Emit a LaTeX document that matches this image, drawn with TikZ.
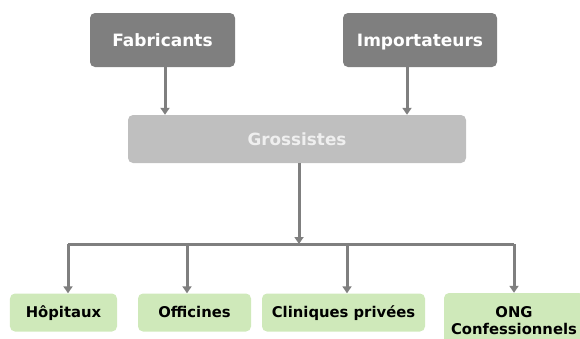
\documentclass[tikz,border=0pt]{standalone}
\usepackage{fontspec}
\setmainfont{DejaVu Sans}
\usetikzlibrary{arrows.meta,calc}
\definecolor{darkbox}{HTML}{7F7F7F}
\definecolor{lightbox}{HTML}{BFBFBF}
\definecolor{greenbox}{HTML}{CFE9BA}
\definecolor{linec}{HTML}{7F7F7F}
\definecolor{grostext}{HTML}{EFEFEF}
\begin{document}
\begin{tikzpicture}[x=1bp,y=-1bp,
  topbox/.style={fill=darkbox,rounded corners=5bp,inner sep=0pt,text=white,
    text height=12.4bp,text depth=0pt,
    font=\fontsize{17bp}{20bp}\selectfont\bfseries},
  grosbox/.style={fill=lightbox,rounded corners=5bp,inner sep=0pt,text=grostext,
    text height=12.2bp,text depth=0pt,
    font=\fontsize{16.8bp}{20bp}\selectfont\bfseries},
  leafbox/.style={fill=greenbox,rounded corners=5bp,inner sep=0pt,text=black,
    font=\fontsize{14.8bp}{17.7bp}\selectfont\bfseries,align=center},
  conn/.style={draw=linec,line width=3bp},
  arr/.style={conn,-{Triangle[width=9bp,length=7bp]}}]
\useasboundingbox (0,0) rectangle (580,338);
\clip (0,0) rectangle (580,338);
\node[topbox,minimum width=145bp,minimum height=54bp] (fab) at (162.5,40) {Fabricants};
\node[topbox,minimum width=154bp,minimum height=54bp] (imp) at (420,40) {Importateurs};
\node[grosbox,minimum width=338bp,minimum height=48bp] (gro) at (297,139) {Grossistes};
\node[leafbox,text height=10.8bp,text depth=0pt,minimum width=107bp,minimum height=38bp] (hop) at (63.5,312.5) {Hôpitaux};
\node[leafbox,text height=10.8bp,text depth=0pt,minimum width=113bp,minimum height=38bp] (off) at (194.5,312.5) {Officines};
\node[leafbox,text height=10.8bp,text depth=0pt,minimum width=163bp,minimum height=38bp] (cli) at (343.5,312.5) {Cliniques privées};
\node[leafbox,minimum width=140bp,minimum height=55bp] (ong) at (514,320.5) {ONG\\Confessionnels};
\coordinate (jc) at (299,244);
\coordinate (d1) at (68,244);
\coordinate (d2) at (187,244);
\coordinate (d3) at (347,244);
\coordinate (d4) at (514,244);
\coordinate (f1) at (165,0);
\coordinate (f2) at (407,0);
\draw[arr] (f1 |- fab.south) -- (f1 |- gro.north);
\draw[arr] (f2 |- imp.south) -- (f2 |- gro.north);
\draw[arr] (jc |- gro.south) -- (jc);
\draw[conn] (d1) -- (d4);
\draw[arr] (d1) -- (d1 |- hop.north);
\draw[arr] (d2) -- (d2 |- off.north);
\draw[arr] (d3) -- (d3 |- cli.north);
\draw[arr] (d4) -- (d4 |- ong.north);
\end{tikzpicture}
\end{document}
